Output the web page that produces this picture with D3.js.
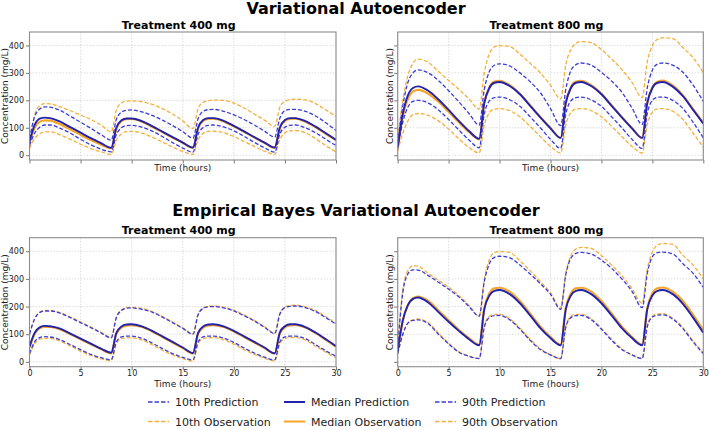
<!DOCTYPE html>
<html><head><meta charset="utf-8">
<script src="https://cdn.jsdelivr.net/npm/d3@7"></script>
<style>
html,body{margin:0;padding:0;background:#fff;}
text{font-family:"DejaVu Sans",sans-serif;}
</style></head>
<body>
<svg id="chart" width="709" height="430"></svg>
<script>
// ---- data ----
const times = [0,0.5,1,1.5,2,3,4,5,6,7,8, 8.5,9,9.5,10,11,12,13,14,15,16, 16.5,17,17.5,18,19,20,21,22,23,24, 24.5,25,25.5,26,27,28,29,30];
const xTicks = [0,5,10,15,20,25,30];
const yTicks = [0,100,200,300,400];
const sectionTitles = ["Variational Autoencoder","Empirical Bayes Variational Autoencoder"];
const panelTitles = ["Treatment 400 mg","Treatment 800 mg"];
const legendLabels = ["10th Prediction","Median Prediction","90th Prediction","10th Observation","Median Observation","90th Observation"];

// VAE 400 mg
const vae400_p10  = [35,80,102,110,110,98,80,58,38,22,12, 75,100,108,109,102,88,68,46,26,11, 76,101,109,110,103,89,69,47,27,11, 77,102,109,110,100,82,58,35];
const vae400_pMed = [50,110,133,137,135,122,102,82,62,44,27, 100,127,134,134,124,106,86,66,46,28, 100,128,135,135,125,107,87,66,46,28, 100,128,135,135,124,104,80,56];
const vae400_p90  = [60,140,168,176,175,163,142,120,98,75,55, 130,157,164,165,158,145,128,108,86,62, 133,160,166,167,160,147,130,110,88,66, 135,162,167,167,160,143,118,90];
const vae400_o10  = [25,60,78,85,85,74,58,40,24,12,3, 55,78,86,87,80,66,48,30,14,3, 56,80,87,88,82,68,50,32,15,3, 57,82,89,90,82,60,35,12];
const vae400_oMed = [45,100,122,127,126,113,94,74,55,38,25, 96,124,131,132,122,104,84,64,45,27, 97,125,132,133,123,105,85,65,45,27, 97,125,132,133,122,102,78,55];
const vae400_o90  = [40,145,180,188,187,176,162,146,130,110,85, 165,190,197,198,195,185,170,150,125,97, 170,193,199,201,200,190,172,150,128,105, 175,196,202,204,202,188,165,142];
// VAE 800 mg
const vae800_p10  = [25,120,175,196,200,190,165,130,92,55,27, 150,198,210,212,202,178,140,100,58,25, 150,198,210,212,202,178,140,100,58,25, 152,200,211,212,200,170,120,63];
const vae800_pMed = [30,150,218,245,251,235,203,165,125,88,60, 190,245,264,267,252,222,180,138,98,63, 190,245,264,267,252,222,180,138,98,63, 190,245,264,267,250,215,165,115];
const vae800_p90  = [45,180,265,300,311,300,272,235,195,152,110, 240,305,328,333,325,300,268,228,170,108, 240,308,330,336,328,302,270,230,172,112, 245,310,332,336,328,302,255,196];
const vae800_o10  = [15,80,125,148,152,145,125,95,60,28,8, 110,155,168,170,162,140,105,68,32,8, 110,155,168,170,162,140,105,68,32,8, 112,157,169,170,160,130,80,30];
const vae800_oMed = [28,140,205,232,238,224,195,158,120,85,58, 192,248,268,271,255,224,182,139,99,63, 192,248,268,271,255,224,182,139,99,63, 192,248,268,272,254,218,168,118];
const vae800_o90  = [60,200,290,335,350,338,305,272,240,205,168, 300,370,395,399,396,368,335,300,255,205, 330,385,408,414,410,385,350,312,265,210, 340,400,422,428,425,392,355,300];
// EB-VAE 400 mg
const eb400_p10  = [30,72,88,91,90,80,62,44,27,15,8, 72,90,93,93,85,68,48,30,16,7, 72,90,93,93,86,70,50,32,17,7, 72,90,93,93,84,62,40,20];
const eb400_pMed = [55,105,125,130,129,120,102,84,66,48,33, 105,128,135,136,128,112,92,72,52,32, 105,128,135,136,128,112,92,72,52,31, 106,129,136,136,126,106,82,57];
const eb400_p90  = [100,155,178,184,184,176,160,142,124,105,87, 160,186,194,195,190,180,162,142,121,100, 170,193,199,200,195,184,167,148,125,102, 172,196,201,202,196,182,160,136];
const eb400_o10  = [25,65,82,85,85,75,57,39,23,11,4, 66,84,87,87,79,62,42,25,12,3, 66,84,87,88,80,64,44,27,13,3, 66,84,88,88,79,57,35,15];
const eb400_oMed = [52,101,121,126,126,117,100,82,64,46,31, 101,124,131,133,126,110,90,70,50,30, 101,124,131,133,126,110,90,70,50,30, 102,125,132,134,124,104,80,55];
const eb400_o90  = [100,156,180,186,186,178,162,144,126,107,88, 162,188,196,197,193,182,164,144,123,101, 172,195,201,202,198,187,170,150,127,104, 175,199,204,205,199,185,163,139];
// EB-VAE 800 mg
const eb800_p10  = [30,100,140,150,152,138,100,65,35,20,12, 125,160,167,168,152,118,78,45,25,12, 125,160,167,168,152,118,78,45,25,12, 127,162,169,170,155,120,72,30];
const eb800_pMed = [40,150,205,228,233,215,180,145,112,82,60, 190,240,257,260,245,212,168,122,86,60, 190,240,257,260,245,212,168,122,86,60, 190,240,257,260,245,210,160,105];
const eb800_p90  = [55,250,318,333,332,312,288,263,235,200,165, 290,355,378,382,376,350,318,283,245,190, 315,375,392,396,390,368,338,300,255,196, 320,380,395,397,390,355,320,269];
const eb800_o10  = [28,98,140,152,155,142,104,68,37,21,12, 128,165,172,172,156,122,82,48,26,12, 128,165,172,172,156,122,82,48,26,12, 130,166,173,174,158,124,76,32];
const eb800_oMed = [38,148,205,230,236,220,186,150,116,86,62, 195,248,266,268,254,220,175,128,90,62, 195,248,266,268,254,220,175,128,90,62, 195,248,266,269,254,220,170,115];
const eb800_o90  = [60,260,330,348,346,320,295,270,240,205,166, 300,370,395,399,396,365,330,290,250,196, 320,385,408,414,410,384,350,312,265,212, 335,398,422,428,425,385,350,300];

// ---- styles ----
const BLUE_D = "#3c3cd8", BLUE_M = "#2222aa", ORANGE_D = "#f5b03a", ORANGE_M = "#f5a52a";
const styles = {
  o10:{c:ORANGE_D,w:1.3,d:"4,2"}, o90:{c:ORANGE_D,w:1.3,d:"4,2"}, oMed:{c:ORANGE_M,w:2.2,d:null},
  p10:{c:BLUE_D,w:1.3,d:"4,2"}, p90:{c:BLUE_D,w:1.3,d:"4,2"}, pMed:{c:BLUE_M,w:1.9,d:null}
};

const panels = [
  {x0:29.5, x1:336,   y0:32,    y1:160,   title:panelTitles[0], xlab:false, ylab:true,
   s:{p10:vae400_p10,pMed:vae400_pMed,p90:vae400_p90,o10:vae400_o10,oMed:vae400_oMed,o90:vae400_o90}},
  {x0:397.7,x1:703.3, y0:32,    y1:160,   title:panelTitles[1], xlab:false, ylab:false,
   s:{p10:vae800_p10,pMed:vae800_pMed,p90:vae800_p90,o10:vae800_o10,oMed:vae800_oMed,o90:vae800_o90}},
  {x0:29.5, x1:336,   y0:237.7, y1:366.7, title:panelTitles[0], xlab:true, ylab:true,
   s:{p10:eb400_p10,pMed:eb400_pMed,p90:eb400_p90,o10:eb400_o10,oMed:eb400_oMed,o90:eb400_o90}},
  {x0:397.7,x1:703.3, y0:237.7, y1:366.7, title:panelTitles[1], xlab:true, ylab:false,
   s:{p10:eb800_p10,pMed:eb800_pMed,p90:eb800_p90,o10:eb800_o10,oMed:eb800_oMed,o90:eb800_o90}}
];

const svg = d3.select("#chart");
svg.append("rect").attr("width",709).attr("height",430).attr("fill","#fff");

svg.append("text").attr("x",356).attr("y",13.5).attr("text-anchor","middle")
  .attr("font-size",16).attr("font-weight","bold").text(sectionTitles[0]);
svg.append("text").attr("x",356).attr("y",215.5).attr("text-anchor","middle")
  .attr("font-size",16).attr("font-weight","bold").text(sectionTitles[1]);

const drawOrder = ["o10","o90","oMed","p10","p90","pMed"];

panels.forEach((p,i)=>{
  const x = d3.scaleLinear().domain([0,30]).range([p.x0,p.x1]);
  const y = d3.scaleLinear().domain([-17.5,449]).range([p.y1,p.y0]);
  const g = svg.append("g");
  const cid = "clip"+i;
  svg.append("clipPath").attr("id",cid).append("rect")
    .attr("x",p.x0).attr("y",p.y0).attr("width",p.x1-p.x0).attr("height",p.y1-p.y0);

  // grid
  g.append("g").selectAll("line").data(xTicks).join("line")
    .attr("x1",d=>x(d)).attr("x2",d=>x(d)).attr("y1",p.y0).attr("y2",p.y1)
    .attr("stroke","#d4d4d4").attr("stroke-width",0.8).attr("stroke-dasharray","1.5,1.5");
  g.append("g").selectAll("line").data(yTicks).join("line")
    .attr("y1",d=>y(d)).attr("y2",d=>y(d)).attr("x1",p.x0).attr("x2",p.x1)
    .attr("stroke","#d4d4d4").attr("stroke-width",0.8).attr("stroke-dasharray","1.5,1.5");

  // axes
  const xa = d3.axisBottom(x).tickValues(xTicks).tickSize(3.5).tickPadding(0)
    .tickFormat(p.xlab ? d3.format("d") : ()=>"");
  const ya = d3.axisLeft(y).tickValues(yTicks).tickSize(3.5).tickPadding(2)
    .tickFormat(p.ylab ? d3.format("d") : ()=>"");
  const gx = svg.append("g").attr("transform",`translate(0,${p.y1})`).call(xa);
  const gy = svg.append("g").attr("transform",`translate(${p.x0},0)`).call(ya);
  [gx,gy].forEach(a=>{
    a.select(".domain").remove();
    a.selectAll(".tick line").attr("stroke","#555").attr("stroke-width",0.8);
    a.selectAll(".tick text").attr("font-size",8).attr("fill","#222")
      .attr("font-family","DejaVu Sans");
  });

  // lines
  const line = d3.line().x((d,j)=>x(times[j])).y(d=>y(d)).curve(d3.curveMonotoneX);
  const lg = svg.append("g").attr("clip-path",`url(#${cid})`);
  drawOrder.forEach(k=>{
    const st = styles[k];
    lg.append("path").datum(p.s[k]).attr("d",line).attr("fill","none")
      .attr("stroke",st.c).attr("stroke-width",st.w)
      .attr("stroke-dasharray",st.d).attr("stroke-linejoin","round");
  });

  // frame
  svg.append("rect").attr("x",p.x0).attr("y",p.y0).attr("width",p.x1-p.x0).attr("height",p.y1-p.y0)
    .attr("fill","none").attr("stroke","#8c8c8c").attr("stroke-width",1.1);

  const cx = (p.x0+p.x1)/2;
  svg.append("text").attr("x",cx-4).attr("y",p.y0-3.3).attr("text-anchor","middle")
    .attr("font-size",11).attr("font-weight","bold").text(p.title);
  svg.append("text").attr("x",cx).attr("y",p.xlab ? p.y1+20.5 : p.y1+10.5).attr("text-anchor","middle")
    .attr("font-size",9).attr("fill","#222").text("Time (hours)");
  const ylx = p.ylab ? 7.5 : p.x0-5;
  svg.append("text").attr("transform",`translate(${ylx},${(p.y0+p.y1)/2}) rotate(-90)`)
    .attr("text-anchor","middle").attr("font-size",9).attr("fill","#222").text("Concentration (mg/L)");
});

// legend
const legCols = [148,284,435];
const legRows = [402,421.5];
const legKeys = [["p10","pMed","p90"],["o10","oMed","o90"]];
legKeys.forEach((row,r)=>{
  row.forEach((k,c)=>{
    const st = styles[k];
    const lx = legCols[c], ly = legRows[r];
    svg.append("line").attr("x1",lx).attr("x2",lx+21).attr("y1",ly).attr("y2",ly)
      .attr("stroke",st.c).attr("stroke-width",st.d?1.5:2).attr("stroke-dasharray",st.d?"4.5,2":null);
    svg.append("text").attr("x",lx+27).attr("y",ly+4).attr("font-size",11).attr("fill","#222")
      .text(legendLabels[r*3+c]);
  });
});
</script>
</body></html>
